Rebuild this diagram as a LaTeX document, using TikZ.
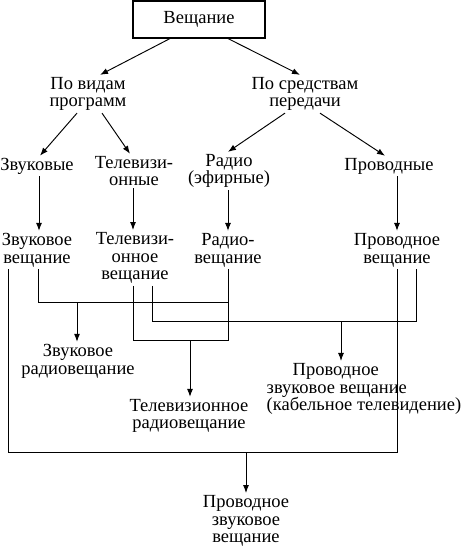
\documentclass[tikz,border=0pt]{standalone}
\usepackage{fontspec}
\setmainfont{Liberation Serif}
\usetikzlibrary{arrows.meta}
\begin{document}
\begin{tikzpicture}[x=1pt,y=-1pt,
  every node/.style={font=\fontsize{18.5}{17.8}\selectfont, align=center, inner sep=2pt},
  conn/.style={line width=0.95pt},
  arr/.style={conn, -{Latex[length=8pt,width=6pt]}}]
\useasboundingbox (0,0) rectangle (462,550);
\node[draw, line width=1.1pt, minimum width=132pt, minimum height=37pt] (top) at (199,19.5) {Вещание};
\node (pv) at (88,94) {По видам\\программ};
\node (ps) at (305,94) {По средствам\\передачи};
\node (zv) at (37,166) {Звуковые};
\node (tv) at (134,171) {Телевизи-\\онные};
\node (rd) at (229,171) {Радио\\(эфирные)};
\node (pr) at (389,166) {Проводные};
\node (zvv) at (37,250) {Звуковое\\вещание};
\node (tvv) at (135,258) {Телевизи-\\онное\\вещание};
\node (rdv) at (228,250) {Радио-\\вещание};
\node (prv) at (397,250) {Проводное\\вещание};
\node (zrv) at (78,361) {Звуковое\\радиовещание};
\node (trv) at (189,416) {Телевизионное\\радиовещание};
\node[align=left] (pzv) at (364,389) {\hspace*{26pt}Проводное\\звуковое вещание\\(кабельное телевидение)};
\node (pzw) at (246,521) {Проводное\\звуковое\\вещание};
\coordinate (cA) at (77,302);
\coordinate (cB) at (190,340);
\coordinate (cC) at (341,321);
\coordinate (cD) at (246,452);
% top level
\draw[arr] ([xshift=-29pt]top.south) -- ([xshift=12pt]pv.north);
\draw[arr] ([xshift=29pt]top.south) -- ([xshift=-5pt]ps.north);
\draw[arr] ([xshift=-11pt]pv.south) -- ([xshift=3pt]zv.north);
\draw[arr] ([xshift=14pt]pv.south) -- ([xshift=-4pt]tv.north);
\draw[arr] ([xshift=-20pt]ps.south) -- ([xshift=-1pt]rd.north);
\draw[arr] ([xshift=15pt]ps.south) -- ([xshift=-4pt]pr.north);
% verticals
\draw[arr] ([xshift=2pt]zv.south) -- ([xshift=2pt]zvv.north);
\draw[arr] ([xshift=-1pt]tv.south) -- ([xshift=-2pt]tvv.north);
\draw[arr] ([xshift=-1pt]rd.south) -- (rdv.north);
\draw[arr] (prv.north |- pr.south) -- (prv.north);
% merges
\draw[conn] ([xshift=1pt]zvv.south) |- (rdv.south |- cA);
\draw[conn] ([xshift=-2pt]tvv.south) |- (rdv.south |- cB) -- (rdv.south);
\draw[conn] ([xshift=17pt]tvv.south) |- ([xshift=19pt]prv.south |- cC) -- ([xshift=19pt]prv.south);
\draw[conn] ([xshift=-29pt]zvv.south) |- (prv.south |- cD) -- (prv.south);
\draw[arr] (cA) -- (zrv.north -| cA);
\draw[arr] (cB) -- (trv.north -| cB);
\draw[arr] (cC) -- (pzv.north -| cC);
\draw[arr] (cD) -- (pzw.north -| cD);
\end{tikzpicture}
\end{document}
